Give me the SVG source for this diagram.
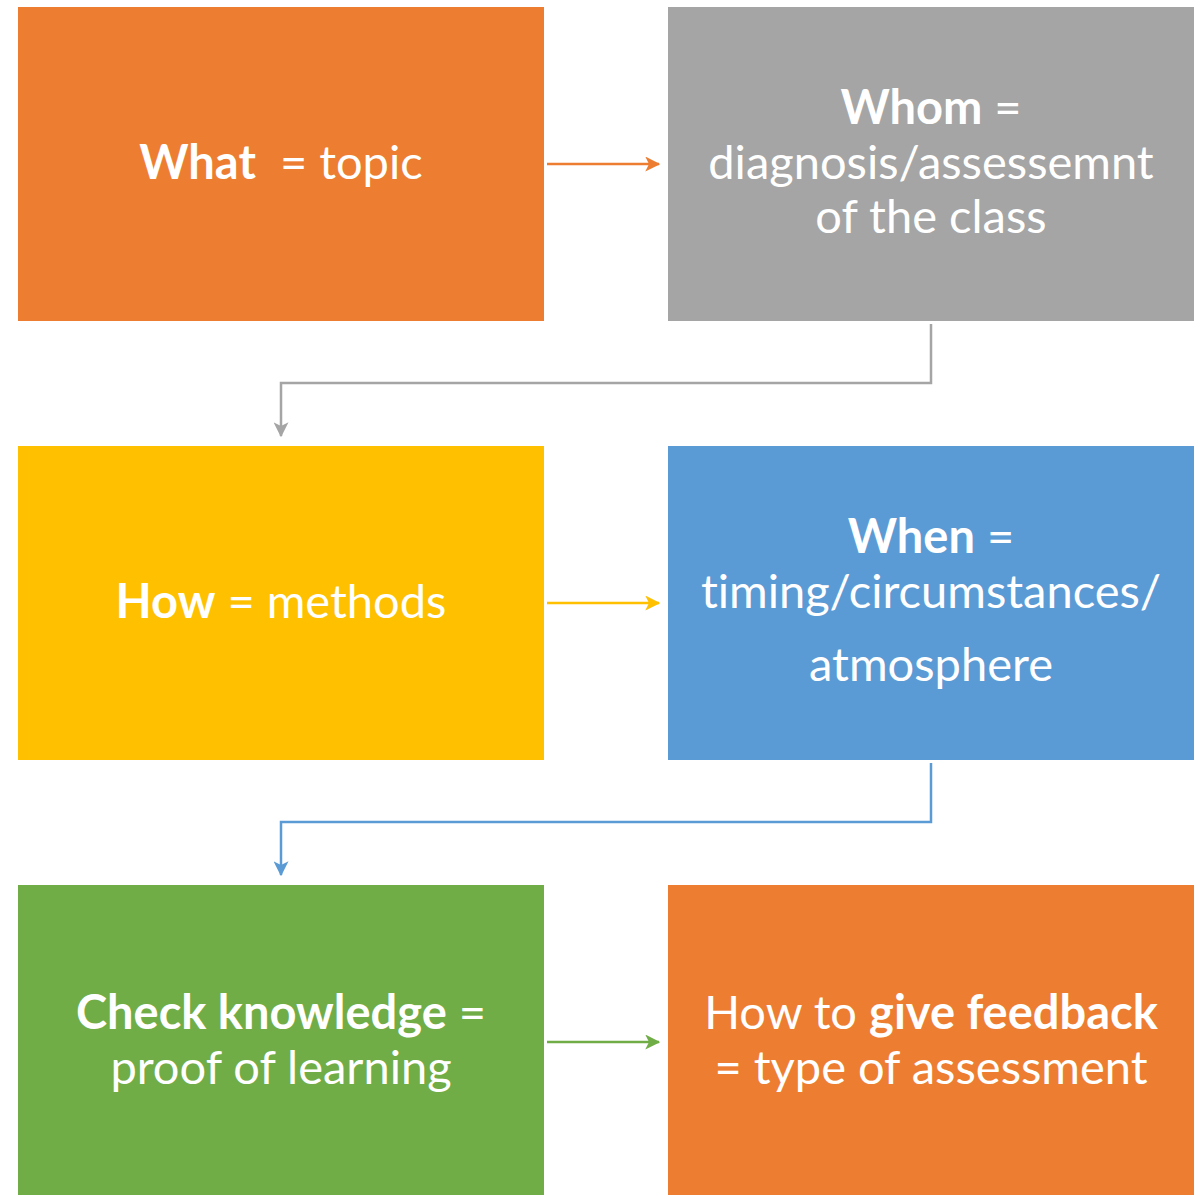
<svg xmlns="http://www.w3.org/2000/svg" width="1204" height="1196" viewBox="0 0 1204 1196">
<defs>
<style>
.t{font-family:Lato,"Open Sans",sans-serif;font-size:47px;fill:#fff;text-anchor:middle;font-variant-ligatures:none;white-space:pre}
.b{font-weight:bold}
.c{fill:none;stroke-width:2.5}
</style>
<marker id="mo" viewBox="0 0 12 12" refX="11" refY="6" markerWidth="6" markerHeight="6" markerUnits="strokeWidth" orient="auto"><path d="M0,0 L12,6 L0,12 L3,6 Z" fill="#ED7D31"/></marker>
<marker id="mg" viewBox="0 0 12 12" refX="11" refY="6" markerWidth="6" markerHeight="6" markerUnits="strokeWidth" orient="auto"><path d="M0,0 L12,6 L0,12 L3,6 Z" fill="#A5A5A5"/></marker>
<marker id="my" viewBox="0 0 12 12" refX="11" refY="6" markerWidth="6" markerHeight="6" markerUnits="strokeWidth" orient="auto"><path d="M0,0 L12,6 L0,12 L3,6 Z" fill="#FFC000"/></marker>
<marker id="mb" viewBox="0 0 12 12" refX="11" refY="6" markerWidth="6" markerHeight="6" markerUnits="strokeWidth" orient="auto"><path d="M0,0 L12,6 L0,12 L3,6 Z" fill="#5B9BD5"/></marker>
<marker id="mn" viewBox="0 0 12 12" refX="11" refY="6" markerWidth="6" markerHeight="6" markerUnits="strokeWidth" orient="auto"><path d="M0,0 L12,6 L0,12 L3,6 Z" fill="#70AD47"/></marker>
</defs>
<rect width="1204" height="1196" fill="#fff"/>
<g id="n1"><rect x="18" y="7" width="526" height="314" fill="#ED7D31"/><text class="t" x="281" y="179" xml:space="preserve"><tspan class="b">What</tspan>  = topic</text></g>
<g id="n2"><rect x="668" y="7" width="526" height="314" fill="#A5A5A5"/><text class="t" x="931" y="124"><tspan class="b">Whom</tspan> =</text><text class="t" x="931" y="179">diagnosis/assessemnt</text><text class="t" x="931" y="233">of the class</text></g>
<g id="n3"><rect x="18" y="446" width="526" height="314" fill="#FFC000"/><text class="t" x="281" y="618"><tspan class="b">How</tspan> = methods</text></g>
<g id="n4"><rect x="668" y="446" width="526" height="314" fill="#5B9BD5"/><text class="t" x="931" y="553"><tspan class="b">When</tspan> =</text><text class="t" x="931" y="608">timing/circumstances/</text><text class="t" x="931" y="681">atmosphere</text></g>
<g id="n5"><rect x="18" y="885" width="526" height="310" fill="#70AD47"/><text class="t" x="281" y="1029"><tspan class="b">Check knowledge</tspan> =</text><text class="t" x="281" y="1084">proof of learning</text></g>
<g id="n6"><rect x="668" y="885" width="526" height="310" fill="#ED7D31"/><text class="t" x="931" y="1029">How to <tspan class="b">give feedback</tspan></text><text class="t" x="931" y="1084">= type of assessment</text></g>
<g id="connectors">
<path class="c" d="M547,164 H659" stroke="#ED7D31" marker-end="url(#mo)"/>
<path class="c" d="M931,324 V383 H281 V436" stroke="#A5A5A5" marker-end="url(#mg)"/>
<path class="c" d="M547,603 H659" stroke="#FFC000" marker-end="url(#my)"/>
<path class="c" d="M931,763 V822 H281 V875" stroke="#5B9BD5" marker-end="url(#mb)"/>
<path class="c" d="M547,1042 H659" stroke="#70AD47" marker-end="url(#mn)"/>
</g>
</svg>
